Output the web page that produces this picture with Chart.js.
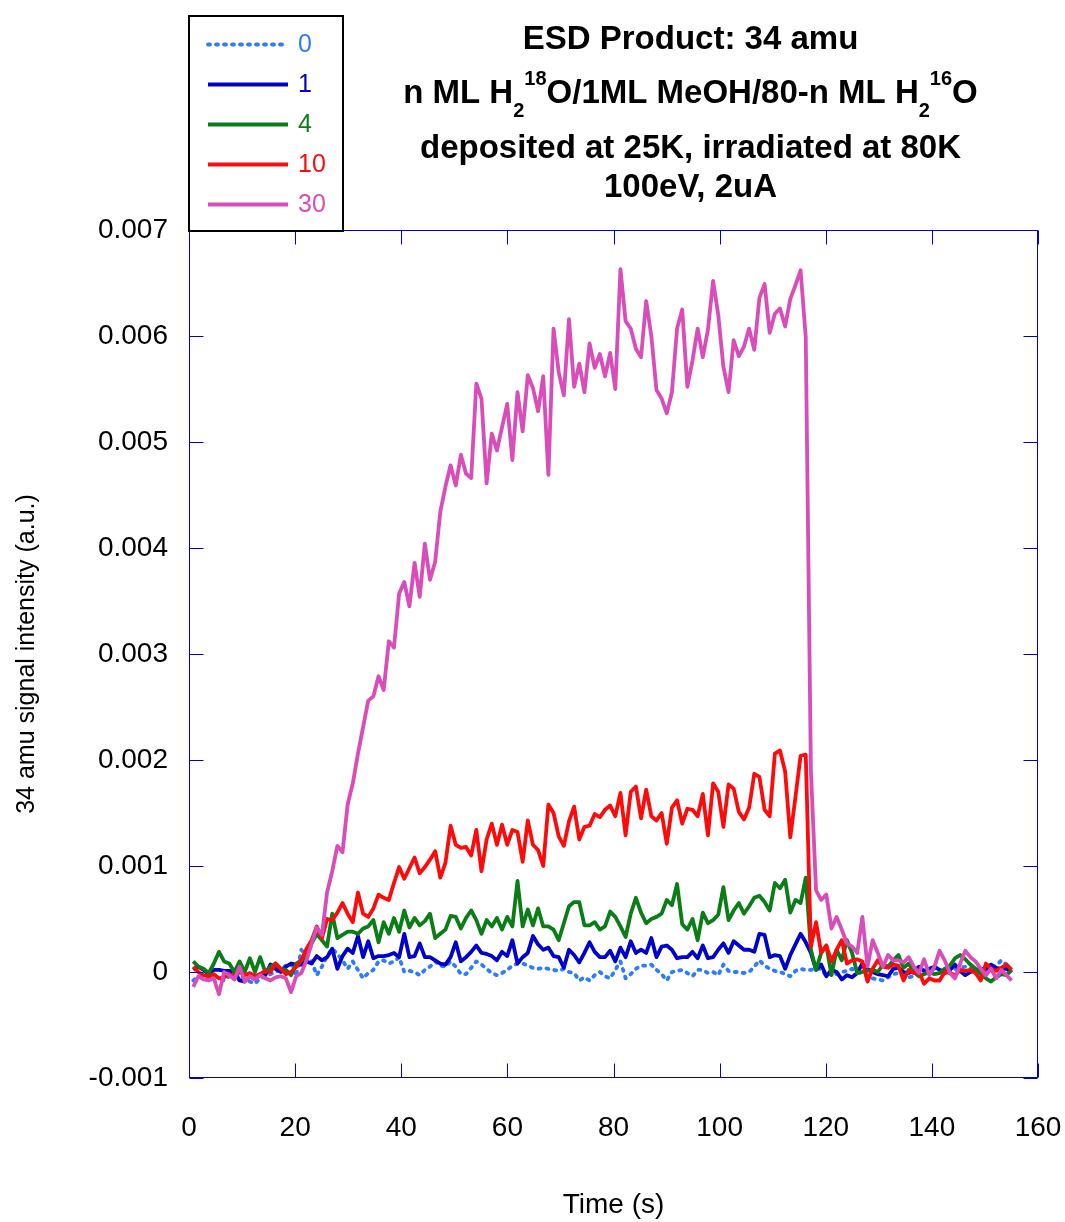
<!DOCTYPE html>
<html>
<head>
<meta charset="utf-8">
<title>ESD Product: 34 amu</title>
<script src="https://cdn.jsdelivr.net/npm/chart.js@4.4.1/dist/chart.umd.min.js"></script>
<style>
  html, body { margin: 0; padding: 0; background: #ffffff; }
  canvas { display: block; }
</style>
</head>
<body>
<canvas id="esd" width="1065" height="1222"></canvas>
<script>
// Sampling times (s)
const timeS = [
  0.80, 1.77, 2.74, 3.71, 4.68, 5.65, 6.62, 7.59, 8.56, 9.53,
  10.50, 11.47, 12.44, 13.41, 14.38, 15.35, 16.32, 17.29, 18.26, 19.23,
  20.20, 21.17, 22.14, 23.11, 24.08, 25.05, 26.02, 26.99, 27.96, 28.93,
  29.90, 30.87, 31.84, 32.81, 33.78, 34.75, 35.72, 36.69, 37.66, 38.63,
  39.60, 40.57, 41.54, 42.51, 43.48, 44.45, 45.42, 46.39, 47.36, 48.33,
  49.30, 50.27, 51.24, 52.21, 53.18, 54.15, 55.12, 56.09, 57.06, 58.03,
  59.00, 59.97, 60.94, 61.91, 62.88, 63.85, 64.82, 65.79, 66.76, 67.73,
  68.70, 69.67, 70.64, 71.61, 72.58, 73.55, 74.52, 75.49, 76.46, 77.43,
  78.40, 79.37, 80.34, 81.31, 82.28, 83.25, 84.22, 85.19, 86.16, 87.13,
  88.10, 89.07, 90.04, 91.01, 91.98, 92.95, 93.92, 94.89, 95.86, 96.83,
  97.80, 98.77, 99.74, 100.71, 101.68, 102.65, 103.62, 104.59, 105.56, 106.53,
  107.50, 108.47, 109.44, 110.41, 111.38, 112.35, 113.32, 114.29, 115.26, 116.23,
  117.20, 118.17, 119.14, 120.11, 121.08, 122.05, 123.02, 123.99, 124.96, 125.93,
  126.90, 127.87, 128.84, 129.81, 130.78, 131.75, 132.72, 133.69, 134.66, 135.63,
  136.60, 137.57, 138.54, 139.51, 140.48, 141.45, 142.42, 143.39, 144.36, 145.33,
  146.30, 147.27, 148.24, 149.21, 150.18, 151.15, 152.12, 153.09, 154.06, 155.03
];

// Legend labels: n ML of H2(18)O
const layerLabels = ['0', '1', '4', '10', '30'];

// 34 amu signal intensity (a.u.) for each coverage
const signal0 = [
  -0.00008, -0.00004, -0.00006, -0.00005, -0.00003, -0.00006, -0.00008, -0.00004, -0.00005, -0.00003,
  -0.00007, -0.00009, -0.00011, -0.00006, -0.00004, -0.00002, 0, 0.00003, 0.00006, 0.00008,
  -0.00004, 0.00021, 0.00014, 0.00010, -0.00003, 0.00005, 0.00015, 0.00022, 0.00017, 0.00011,
  0.00003, 0.00010, 0.00002, -0.00006, -0.00001, 0.00002, 0.00010, 0.00011, 0.00008, 0.00010,
  0.00014, 0, 0.00001, 0, -0.00003, 0.00002, 0.00005, 0.00010, 0.00006, 0.00005,
  0.00010, 0.00005, -0.00002, -0.00002, 0.00004, 0.00010, 0.00007, 0.00003, -0.00001, -0.00003,
  -0.00001, 0.00002, 0.00006, 0.00008, 0.00008, 0.00006, 0.00004, 0.00003, 0.00004, 0.00003,
  0.00002, 0.00001, 0.00003, 0, -0.00001, -0.00008, -0.00005, -0.00008, -0.00003, 0,
  -0.00004, -0.00006, 0.00002, 0.00010, -0.00006, -0.00002, 0.00003, 0.00006, 0.00006, 0.00007,
  0.00002, -0.00002, -0.00008, 0, 0.00001, 0.00002, -0.00001, -0.00004, 0.00002, 0.00002,
  -0.00001, 0, -0.00003, 0.00007, 0.00001, 0, 0, -0.00001, 0, 0.00005,
  0.00011, 0.00006, 0.00003, 0.00001, 0, -0.00002, -0.00004, 0.00001, 0.00003, 0.00002,
  0.00002, 0.00003, 0.00003, -0.00004, 0, -0.00002, 0, 0.00001, 0.00003, 0.00001,
  -0.00002, -0.00003, -0.00006, -0.00007, -0.00008, -0.00005, -0.00002, -0.00001, -0.00003, -0.00005,
  -0.00004, -0.00002, -0.00001, 0.00001, 0.00003, 0.00002, 0, 0.00001, 0.00003, 0.00004,
  0.00005, 0.00004, 0.00003, 0, 0.00001, 0.00003, 0.00006, 0.00011, 0.00007, 0.00005
];

const signal1 = [
  0.00002, 0.00005, 0.00002, -0.00002, 0.00002, 0.00002, 0.00001, 0.00001, 0, -0.00008,
  -0.00009, -0.00004, -0.00007, -0.00002, -0.00003, 0.00007, 0.00003, 0, 0.00005, 0.00008,
  0.00007, 0.00007, 0.00010, 0.00008, 0.00015, 0.00011, 0.00014, 0.00022, 0.00003, 0.00015,
  0.00022, 0.00018, 0.00034, 0.00014, 0.00029, 0.00013, 0.00015, 0.00015, 0.00016, 0.00018,
  0.00014, 0.00036, 0.00014, 0.00015, 0.00027, 0.00014, 0.00014, 0.00011, 0.00008, 0.00007,
  0.00014, 0.00028, 0.00010, 0.00014, 0.00019, 0.00025, 0.00018, 0.00017, 0.00015, 0.00011,
  0.00019, 0.00015, 0.00030, 0.00008, 0.00014, 0.00018, 0.00034, 0.00026, 0.00021, 0.00023,
  0.00015, 0.00014, 0.00004, 0.00021, 0.00016, 0.00009, 0.00018, 0.00028, 0.00019, 0.00014,
  0.00014, 0.00020, 0.00010, 0.00023, 0.00014, 0.00029, 0.00018, 0.00021, 0.00018, 0.00032,
  0.00014, 0.00024, 0.00025, 0.00021, 0.00013, 0.00014, 0.00014, 0.00019, 0.00013, 0.00025,
  0.00013, 0.00014, 0.00021, 0.00027, 0.00018, 0.00029, 0.00025, 0.00021, 0.00021, 0.00019,
  0.00036, 0.00035, 0.00014, 0.00016, 0.00015, 0.00003, 0.00016, 0.00026, 0.00036, 0.00028,
  0.00018, 0.00002, 0.00007, -0.00004, 0.00002, 0, -0.00007, -0.00003, -0.00005, -0.00001,
  0.00008, 0.00003, 0, -0.00002, -0.00003, -0.00004, 0.00003, 0.00004, 0, -0.00001,
  0.00001, 0.00005, 0.00001, 0.00003, 0.00005, 0.00002, -0.00001, 0.00002, 0.00007, 0.00001,
  -0.00003, 0, 0.00002, 0.00003, 0.00003, 0.00007, 0.00004, 0.00003, 0.00003, 0
];

const signal4 = [
  0.00010, 0.00005, 0.00003, -0.00001, 0.00008, 0.00019, 0.00010, 0.00008, 0, 0.00010,
  0, 0.00013, 0, 0.00014, 0, 0.00005, 0.00008, 0.00003, 0.00002, -0.00003,
  0.00008, 0.00011, 0.00014, 0.00027, 0.00036, 0.00030, 0.00024, 0.00055, 0.00032, 0.00035,
  0.00038, 0.00038, 0.00036, 0.00041, 0.00043, 0.00049, 0.00028, 0.00047, 0.00036, 0.00051,
  0.00038, 0.00058, 0.00042, 0.00051, 0.00044, 0.00048, 0.00055, 0.00032, 0.00036, 0.00040,
  0.00053, 0.00052, 0.00041, 0.00051, 0.00058, 0.00049, 0.00036, 0.00049, 0.00043, 0.00051,
  0.00040, 0.00052, 0.00043, 0.00086, 0.00043, 0.00059, 0.00044, 0.00060, 0.00043, 0.00043,
  0.00040, 0.00030, 0.00046, 0.00062, 0.00066, 0.00066, 0.00044, 0.00044, 0.00047, 0.00040,
  0.00043, 0.00057, 0.00052, 0.00043, 0.00033, 0.00055, 0.00070, 0.00056, 0.00046, 0.00050,
  0.00052, 0.00055, 0.00068, 0.00063, 0.00083, 0.00045, 0.00040, 0.00050, 0.00030, 0.00056,
  0.00046, 0.00049, 0.00054, 0.00080, 0.00049, 0.00058, 0.00065, 0.00055, 0.00062, 0.00070,
  0.00072, 0.00066, 0.00058, 0.00084, 0.00079, 0.00087, 0.00056, 0.00068, 0.00065, 0.00089,
  0.00021, 0.00002, 0.00018, 0.00025, -0.00003, 0.00021, 0.00011, 0.00030, 0.00018, -0.00001,
  0, 0.00001, 0.00002, 0, 0.00007, 0.00005, 0.00011, 0.00016, 0.00004, 0.00008,
  0, -0.00004, -0.00002, 0, -0.00002, -0.00001, 0.00003, 0.00006, 0.00013, 0.00016,
  0.00012, 0.00007, 0.00003, -0.00002, -0.00006, -0.00009, -0.00005, -0.00002, -0.00003, 0.00002
];

const signal10 = [
  0.00005, 0, -0.00003, -0.00004, -0.00002, -0.00006, -0.00005, -0.00002, -0.00004, 0,
  -0.00003, -0.00001, -0.00004, -0.00002, 0.00001, 0, 0.00008, 0.00003, -0.00002, 0,
  0.00005, 0.00011, 0.00022, 0.00030, 0.00043, 0.00032, 0.00050, 0.00049, 0.00056, 0.00065,
  0.00055, 0.00047, 0.00075, 0.00055, 0.00052, 0.00060, 0.00073, 0.00070, 0.00068, 0.00084,
  0.00099, 0.00088, 0.00098, 0.00108, 0.00093, 0.00099, 0.00106, 0.00114, 0.00089, 0.00103,
  0.00138, 0.00120, 0.00117, 0.00118, 0.00110, 0.00134, 0.00095, 0.00125, 0.00140, 0.00120,
  0.00139, 0.00120, 0.00134, 0.00132, 0.00104, 0.00143, 0.00120, 0.00115, 0.00100, 0.00158,
  0.00150, 0.00128, 0.00119, 0.00142, 0.00156, 0.00125, 0.00137, 0.00138, 0.00149, 0.00146,
  0.00153, 0.00157, 0.00147, 0.00169, 0.00129, 0.00170, 0.00175, 0.00145, 0.00172, 0.00147,
  0.00143, 0.00150, 0.00121, 0.00155, 0.00162, 0.00140, 0.00154, 0.00153, 0.00147, 0.00168,
  0.00129, 0.00178, 0.00170, 0.00137, 0.00177, 0.00173, 0.00151, 0.00144, 0.00155, 0.00187,
  0.00184, 0.00153, 0.00147, 0.00206, 0.00209, 0.00189, 0.00127, 0.00165, 0.00204, 0.00205,
  0.00024, 0.00047, 0.00018, 0.00025, 0.00010, 0.00021, 0.00030, 0.00008, 0.00011, 0.00012,
  0.00010, -0.00009, 0.00003, 0.00011, 0.00005, 0.00004, 0.00007, 0.00006, -0.00008, 0.00002,
  -0.00001, 0, -0.00011, -0.00006, -0.00008, -0.00008, 0, -0.00001, -0.00003, 0.00002,
  0.00001, 0.00002, -0.00001, -0.00008, 0.00008, 0.00003, 0.00001, 0.00004, 0.00007, 0.00002
];

const signal30 = [
  -0.00014, -0.00004, -0.00007, -0.00008, -0.00006, -0.00021, 0, -0.00003, -0.00007, 0.00005,
  -0.00009, -0.00004, -0.00007, -0.00003, -0.00006, -0.00008, -0.00005, -0.00004, -0.00006, -0.00019,
  -0.00004, -0.00001, 0.00011, 0.00027, 0.00042, 0.00035, 0.00075, 0.00095, 0.00119, 0.00113,
  0.00158, 0.00178, 0.00206, 0.00231, 0.00256, 0.00260, 0.00279, 0.00266, 0.00312, 0.00306,
  0.00357, 0.00368, 0.00345, 0.00386, 0.00354, 0.00404, 0.00370, 0.00387, 0.00434, 0.00458,
  0.00478, 0.00459, 0.00488, 0.00470, 0.00466, 0.00555, 0.00541, 0.00461, 0.00508, 0.00492,
  0.00514, 0.00536, 0.00483, 0.00547, 0.00510, 0.00563, 0.00551, 0.00529, 0.00562, 0.00469,
  0.00607, 0.00566, 0.00544, 0.00616, 0.00552, 0.00574, 0.00547, 0.00593, 0.00570, 0.00583,
  0.00562, 0.00584, 0.00550, 0.00663, 0.00614, 0.00607, 0.00588, 0.00580, 0.00633, 0.00600,
  0.00549, 0.00541, 0.00527, 0.00547, 0.00607, 0.00625, 0.00552, 0.00577, 0.00607, 0.00580,
  0.00606, 0.00652, 0.00620, 0.00571, 0.00547, 0.00596, 0.00581, 0.00590, 0.00607, 0.00587,
  0.00636, 0.00649, 0.00603, 0.00621, 0.00626, 0.00609, 0.00635, 0.00648, 0.00662, 0.00599,
  0.00190, 0.00077, 0.00068, 0.00073, 0.00041, 0.00052, 0.00040, 0.00027, 0.00024, 0.00018,
  0.00052, 0.00005, 0.00030, 0.00018, 0.00005, 0.00016, 0.00011, 0.00011, 0.00009, 0.00014,
  0.00005, -0.00001, 0.00012, -0.00003, 0.00005, 0.00020, 0.00011, -0.00001, -0.00006, 0.00008,
  0.00020, 0.00014, 0.00010, 0.00003, -0.00003, 0.00003, -0.00006, 0.00002, -0.00003, -0.00008
];

// Axis ticks
const xTickStep = 20;
const yTickStep = 0.001;

const FONT = '"Liberation Sans", Arial, Helvetica, sans-serif';
const AXIS_BLUE = '#0000CC';

const seriesStyle = [
  { color: '#2F7BFF', dash: [2, 6], cap: 'round' },
  { color: '#0000CC', dash: [], cap: 'butt' },
  { color: '#0B7D16', dash: [], cap: 'butt' },
  { color: '#FF0A0A', dash: [], cap: 'butt' },
  { color: '#D84DB7', dash: [], cap: 'butt' }
];
const seriesValues = [signal0, signal1, signal4, signal10, signal30];

const datasets = seriesValues.map((vals, k) => ({
  label: layerLabels[k],
  data: timeS.map((t, j) => ({ x: t, y: vals[j] })),
  borderColor: seriesStyle[k].color,
  backgroundColor: seriesStyle[k].color,
  borderWidth: 3.8,
  borderDash: seriesStyle[k].dash,
  borderCapStyle: seriesStyle[k].cap,
  borderJoinStyle: 'round',
  pointRadius: 0,
  tension: 0,
  fill: false,
  order: seriesValues.length - k   // thickest film drawn on top
}));

// Blue box frame with inward ticks on all four sides
const framePlugin = {
  id: 'frame',
  afterDatasetsDraw(chart) {
    const { ctx, chartArea: a, scales: { x, y } } = chart;
    const L = 14;
    ctx.save();
    ctx.strokeStyle = AXIS_BLUE;
    ctx.lineWidth = 1;
    const l = Math.round(a.left) + 0.5, r = Math.round(a.right) - 0.5;
    const t = Math.round(a.top) + 0.5, b = Math.round(a.bottom) - 0.5;
    ctx.strokeRect(l, t, r - l, b - t);
    ctx.beginPath();
    x.ticks.forEach(tk => {
      const px = Math.round(x.getPixelForValue(tk.value)) + 0.5;
      ctx.moveTo(px, b); ctx.lineTo(px, b - L);
      ctx.moveTo(px, t); ctx.lineTo(px, t + L);
    });
    y.ticks.forEach(tk => {
      const py = Math.round(y.getPixelForValue(tk.value)) + 0.5;
      ctx.moveTo(l, py); ctx.lineTo(l + L, py);
      ctx.moveTo(r, py); ctx.lineTo(r - L, py);
    });
    ctx.stroke();
    ctx.restore();
  }
};

// Legend box in the top-left corner
const boxLegendPlugin = {
  id: 'boxLegend',
  afterDraw(chart) {
    const { ctx } = chart;
    const box = { x: 189, y: 16, w: 154, h: 215 };
    ctx.save();
    ctx.fillStyle = '#ffffff';
    ctx.fillRect(box.x, box.y, box.w, box.h);
    ctx.strokeStyle = '#000000';
    ctx.lineWidth = 2;
    ctx.strokeRect(box.x, box.y, box.w, box.h);
    ctx.font = '25px ' + FONT;
    ctx.textBaseline = 'middle';
    ctx.textAlign = 'left';
    chart.data.datasets.forEach((ds, k) => {
      const yy = 44.5 + k * 40;
      ctx.strokeStyle = ds.borderColor;
      ctx.lineWidth = 3.8;
      ctx.lineCap = ds.borderCapStyle;
      ctx.setLineDash(ds.borderDash);
      ctx.beginPath();
      ctx.moveTo(208, yy);
      ctx.lineTo(288, yy);
      ctx.stroke();
      ctx.setLineDash([]);
      ctx.fillStyle = ds.borderColor;
      ctx.fillText(ds.label, 298, yy + 1);
    });
    ctx.restore();
  }
};

// Multi-line bold title with sub/superscripts
const titleLines = [
  { base: 49, parts: [['ESD Product: 34 amu', 'n']] },
  { base: 103, parts: [['n ML H', 'n'], ['2', 'sub'], ['18', 'sup'], ['O/1ML MeOH/80-n ML H', 'n'], ['2', 'sub'], ['16', 'sup'], ['O', 'n']] },
  { base: 158, parts: [['deposited at 25K, irradiated at 80K', 'n']] },
  { base: 197, parts: [['100eV, 2uA', 'n']] }
];
const richTitlePlugin = {
  id: 'richTitle',
  afterDraw(chart) {
    const { ctx, chartArea: a } = chart;
    const cx = (343 + a.right) / 2;
    const big = 'bold 33px ' + FONT, small = 'bold 20px ' + FONT;
    ctx.save();
    ctx.fillStyle = '#000000';
    ctx.textBaseline = 'alphabetic';
    ctx.textAlign = 'left';
    titleLines.forEach(line => {
      let total = 0;
      const widths = line.parts.map(([txt, kind]) => {
        ctx.font = kind === 'n' ? big : small;
        const w = ctx.measureText(txt).width;
        total += w;
        return w;
      });
      let xx = cx - total / 2;
      line.parts.forEach(([txt, kind], k) => {
        ctx.font = kind === 'n' ? big : small;
        const dy = kind === 'sub' ? 14 : kind === 'sup' ? -18 : 0;
        ctx.fillText(txt, xx, line.base + dy);
        xx += widths[k];
      });
    });
    ctx.restore();
  }
};

new Chart(document.getElementById('esd'), {
  type: 'line',
  data: { datasets },
  options: {
    responsive: false,
    animation: false,
    devicePixelRatio: 1,
    layout: { padding: { top: 230, right: 27, left: 0, bottom: 0 } },
    plugins: {
      legend: { display: false },
      title: { display: false },
      tooltip: { enabled: false }
    },
    scales: {
      x: {
        type: 'linear',
        min: 0,
        max: 160,
        grid: { display: false, drawTicks: false },
        border: { display: false },
        ticks: {
          stepSize: xTickStep,
          padding: 33,
          color: '#000000',
          font: { family: FONT, size: 28 },
          maxRotation: 0,
          autoSkip: false
        },
        title: {
          display: true,
          text: 'Time (s)',
          color: '#000000',
          font: { family: FONT, size: 28 },
          padding: { top: 0, bottom: 0 }
        },
        afterFit(scale) {
          scale.height = 144;
          scale.paddingLeft = 0;
          scale.paddingRight = 0;
        }
      },
      y: {
        type: 'linear',
        min: -0.001,
        max: 0.007,
        grid: { display: false, drawTicks: false },
        border: { display: false },
        ticks: {
          stepSize: yTickStep,
          padding: 21,
          color: '#000000',
          font: { family: FONT, size: 28 },
          callback: v => (Math.abs(v) < 1e-12 ? '0' : v.toFixed(3))
        },
        title: {
          display: true,
          text: '34 amu signal intensity (a.u.)',
          color: '#000000',
          font: { family: FONT, size: 25 },
          padding: { top: 12, bottom: 0 }
        },
        afterFit(scale) {
          scale.width = 189;
          scale.paddingTop = 0;
          scale.paddingBottom = 0;
        }
      }
    }
  },
  plugins: [framePlugin, boxLegendPlugin, richTitlePlugin]
});
</script>
</body>
</html>
